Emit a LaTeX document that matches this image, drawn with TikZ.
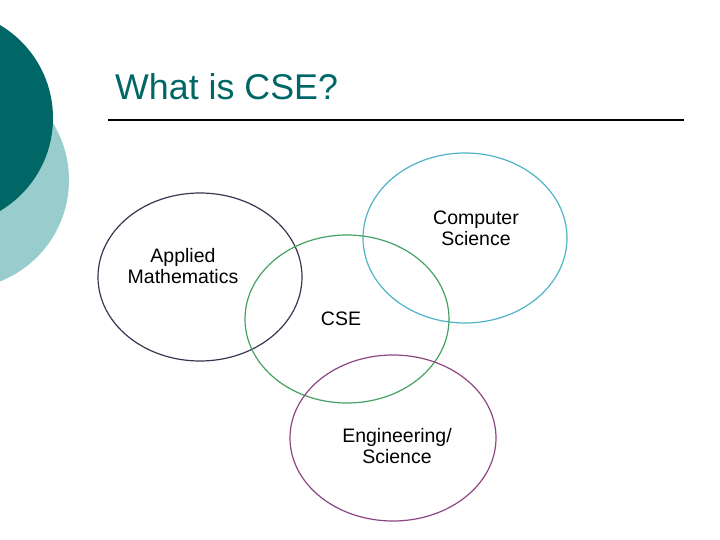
\documentclass[tikz,border=0pt]{standalone}
\usepackage{fontspec}
\setmainfont{Liberation Sans}
\definecolor{darkteal}{RGB}{0,102,102}
\definecolor{lightteal}{RGB}{153,204,204}
\definecolor{mathring}{RGB}{58,53,80}
\definecolor{csring}{RGB}{80,180,200}
\definecolor{cservring}{RGB}{70,160,100}
\definecolor{engring}{RGB}{140,70,130}
\tikzset{
  ringlabel/.style={font=\fontsize{19.5}{21}\selectfont, align=center, inner sep=0pt},
  ring/.style={line width=1.2pt}
}

\begin{document}
\begin{tikzpicture}[x=1pt,y=-1pt]
\useasboundingbox (0,0) rectangle (720,540);
\clip (0,0) rectangle (720,540);
\fill[white] (0,0) rectangle (720,540);
% corner decoration
\fill[lightteal] (-40,180) circle (109);
\fill[darkteal] (-55,118) circle (108);
% title
\node[anchor=base west, inner sep=0pt, text=darkteal, font=\fontsize{35.8}{42}\selectfont] (title) at (115,100) {What is CSE?};
\draw[black, line width=1.8pt] (108,120) -- (684,120);
% the four fields
\draw[ring, mathring] (200,277) ellipse (102 and 84);
\draw[ring, csring] (465,238) ellipse (102 and 85);
\draw[ring, cservring] (347,319) ellipse (102 and 84);
\draw[ring, engring] (393,438) ellipse (103 and 83);
\node[ringlabel] (math) at (183,266) {Applied\\Mathematics};
\node[ringlabel] (compsci) at (476,228) {Computer\\Science};
\node[ringlabel] (cse) at (341,319) {CSE};
\node[ringlabel] (eng) at (397,446) {Engineering/\\Science};
\end{tikzpicture}
\end{document}
